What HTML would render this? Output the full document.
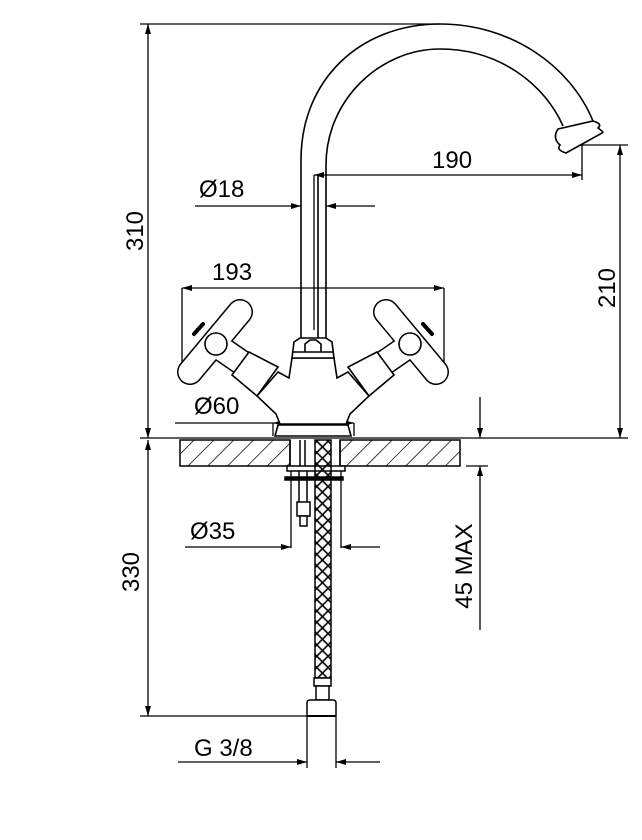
<!DOCTYPE html>
<html><head><meta charset="utf-8"><style>
html,body{margin:0;padding:0;background:#fff;}
svg{display:block;}
text{font-family:"Liberation Sans",sans-serif;font-size:24px;fill:#000;}
</style></head><body>
<svg width="642" height="840" viewBox="0 0 642 840" xmlns="http://www.w3.org/2000/svg">
<defs>
<pattern id="h" width="14" height="14" patternUnits="userSpaceOnUse" patternTransform="rotate(45)">
<line x1="0" y1="0" x2="0" y2="14" stroke="#000" stroke-width="1.5"/>
</pattern>
<pattern id="x" width="8" height="8" patternUnits="userSpaceOnUse" patternTransform="rotate(45)">
<rect width="8" height="8" fill="none" stroke="#000" stroke-width="1.6"/>
</pattern>
<marker id="a" viewBox="0 0 10 6" refX="10" refY="3" markerWidth="14" markerHeight="6" markerUnits="userSpaceOnUse" orient="auto-start-reverse">
<path d="M0,0 L10,3 L0,6 Z" fill="#000"/>
</marker>
</defs>
<g stroke="#000" stroke-width="1.3" fill="none">
<line x1="140" y1="24" x2="440" y2="24"/>
<line x1="140" y1="438" x2="628" y2="438"/>
<line x1="140" y1="716" x2="307" y2="716"/>
<line x1="578" y1="145" x2="628" y2="145"/>
<line x1="582" y1="145" x2="582" y2="180"/>
<line x1="314" y1="175" x2="314" y2="330"/>
<line x1="182" y1="288" x2="182" y2="382"/>
<line x1="444" y1="288" x2="444" y2="382"/>
<line x1="291" y1="468" x2="291" y2="548"/>
<line x1="341" y1="468" x2="341" y2="548"/>
<line x1="307" y1="716" x2="307" y2="768"/>
<line x1="336" y1="716" x2="336" y2="768"/>
<line x1="466" y1="466" x2="488" y2="466"/>
<line x1="148" y1="24" x2="148" y2="438" marker-start="url(#a)" marker-end="url(#a)"/>
<line x1="148" y1="440" x2="148" y2="716" marker-start="url(#a)" marker-end="url(#a)"/>
<line x1="620" y1="145" x2="620" y2="438" marker-start="url(#a)" marker-end="url(#a)"/>
<line x1="314" y1="175" x2="582" y2="175" marker-start="url(#a)" marker-end="url(#a)"/>
<line x1="182" y1="288" x2="444" y2="288" marker-start="url(#a)" marker-end="url(#a)"/>
<line x1="195" y1="206" x2="301" y2="206" marker-end="url(#a)"/>
<line x1="375" y1="206" x2="326" y2="206" marker-end="url(#a)"/>
<line x1="175" y1="423" x2="273" y2="423"/>
<line x1="273" y1="423" x2="273" y2="436"/>
<line x1="354" y1="423" x2="354" y2="436"/>
<line x1="273" y1="423" x2="354" y2="423" marker-start="url(#a)" marker-end="url(#a)"/>
<line x1="185" y1="547" x2="291" y2="547" marker-end="url(#a)"/>
<line x1="380" y1="547" x2="341" y2="547" marker-end="url(#a)"/>
<line x1="480" y1="630" x2="480" y2="466" marker-end="url(#a)"/>
<line x1="480" y1="397" x2="480" y2="438" marker-end="url(#a)"/>
<line x1="178" y1="762" x2="307" y2="762" marker-end="url(#a)"/>
<line x1="380" y1="762" x2="336" y2="762" marker-end="url(#a)"/>
</g>
<rect x="180" y="440" width="110" height="26" fill="url(#h)" stroke="#000" stroke-width="1.5"/>
<rect x="340" y="440" width="120" height="26" fill="url(#h)" stroke="#000" stroke-width="1.5"/>
<g stroke="#000" stroke-width="1.5" fill="none">
<line x1="290" y1="440" x2="290" y2="466"/><line x1="340" y1="440" x2="340" y2="466"/>
<line x1="300" y1="440" x2="300" y2="466"/><line x1="305" y1="440" x2="305" y2="466"/>
</g>
<g stroke="#000" stroke-width="1.6" fill="none">
<path d="M301,340 L301,160 C301,80 360,24 440,24 C510,24 570,65 593,121"/>
<path d="M326,340 L326,165 C326,100 380,49 440,49 C500,49 545,85 563,126"/>
<line x1="318" y1="175" x2="318" y2="340"/>
<path d="M558,129 L593,121 Q603,124 598,128 Q605,133 602,133 L566,153 Q556,150 560,145 Q552,138 558,129 Z" fill="#fff"/>
</g>
<g stroke="#000" stroke-linecap="round" fill="none">
<g stroke-width="26"><line x1="190" y1="372" x2="240" y2="312"/><line x1="216" y1="345" x2="245" y2="365"/>
<line x1="436" y1="372" x2="386" y2="312"/><line x1="410" y1="345" x2="381" y2="365"/></g>
<g stroke="#fff" stroke-width="23"><line x1="190" y1="372" x2="240" y2="312"/><line x1="216" y1="345" x2="245" y2="365"/>
<line x1="436" y1="372" x2="386" y2="312"/><line x1="410" y1="345" x2="381" y2="365"/></g>
</g>
<g stroke="#000" stroke-width="1.6" fill="#fff">
<circle cx="216" cy="344" r="11"/><circle cx="410" cy="344" r="11"/>
<path d="M292,358 L289,378 L278,372 L257,396 L276,414 L280,424 L346,424 L350,414 L369,396 L348,372 L337,378 L334,358 Z"/>
<path d="M275,436 L278,425 L348,425 L351,436 Z"/>
<polygon points="249,352 278,367 257,396 232,375"/>
<polygon points="377,352 348,367 369,396 394,375"/>
<path d="M292,358 L294,342 L300,338 L326,338 L332,342 L334,358 Z"/>
<path d="M305,352 L305,344 L310,340 L316,340 L321,344 L321,352"/>
<line x1="292" y1="352" x2="334" y2="352"/>
</g>
<g stroke="#000" stroke-width="4" stroke-linecap="round">
<line x1="194" y1="334" x2="203" y2="324"/><line x1="432" y1="334" x2="423" y2="324"/>
</g>
<g stroke="#000" stroke-width="1.5" fill="#fff">
<rect x="287" y="466" width="58" height="5"/>
<rect x="285" y="477" width="58" height="3" fill="#000"/>
<line x1="299" y1="471" x2="299" y2="502"/><line x1="307" y1="471" x2="307" y2="502"/>
<rect x="297" y="502" width="13" height="14"/>
<rect x="300" y="516" width="7" height="10"/>
<rect x="315" y="440" width="16" height="238" fill="url(#x)"/>
<rect x="314" y="678" width="17" height="8"/>
<rect x="316" y="686" width="13" height="14"/>
<path d="M307,716 L307,703 Q307,700 310,700 L333,700 Q336,700 336,703 L336,716"/>
<line x1="307" y1="716" x2="336" y2="716" stroke-width="2"/>
</g>
<text x="432" y="168">190</text>
<text x="199" y="197">Ø18</text>
<text x="212" y="280">193</text>
<text x="194" y="414">Ø60</text>
<text x="190" y="539">Ø35</text>
<text x="194" y="756">G 3/8</text>
<text transform="translate(143,231) rotate(-90)" text-anchor="middle">310</text>
<text transform="translate(139,572) rotate(-90)" text-anchor="middle">330</text>
<text transform="translate(615,288) rotate(-90)" text-anchor="middle">210</text>
<text transform="translate(472,566) rotate(-90)" text-anchor="middle">45 MAX</text>
</svg>
</body></html>
